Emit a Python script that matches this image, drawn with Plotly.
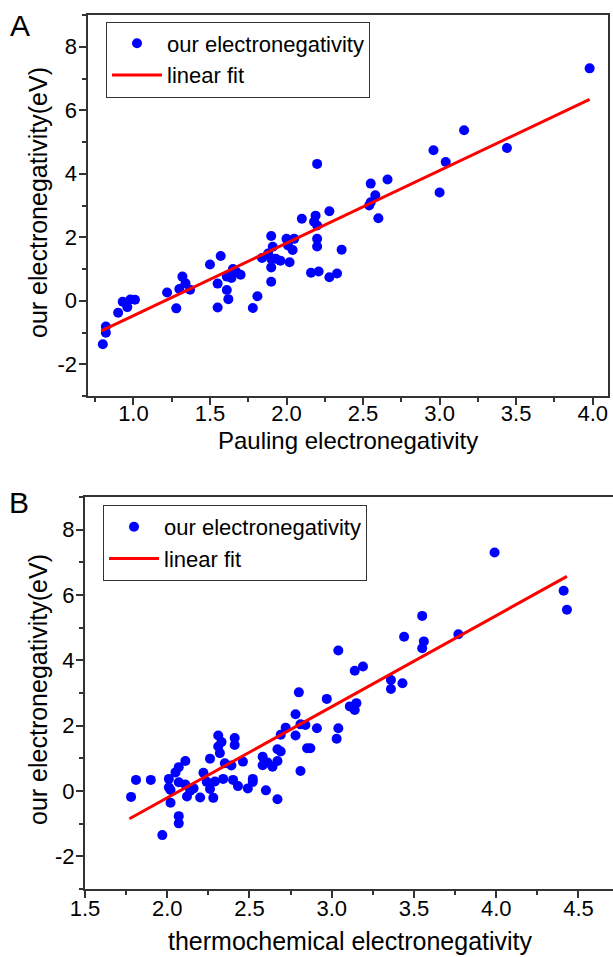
import plotly.graph_objects as go

W, H = 613, 957
FONT = "Liberation Sans, Arial, sans-serif"

# ---- Panel A data: Pauling electronegativity vs our electronegativity ----
pauling_x = [0.80, 0.82, 0.82, 0.90, 0.93, 0.96, 0.98, 1.01, 1.22, 1.28, 1.30, 1.32, 1.34, 1.37,
             1.50, 1.55, 1.55, 1.57, 1.61, 1.61, 1.62, 1.64, 1.65, 1.67, 1.70, 1.78, 1.81, 1.84,
             1.88, 1.90, 1.90, 1.90, 1.91, 1.90, 1.93, 1.96, 2.00, 2.01, 2.02, 2.04, 2.05, 2.10,
             2.16, 2.18, 2.19, 2.20, 2.20, 2.20, 2.21, 2.20, 2.28, 2.28, 2.33, 2.36, 2.54, 2.55,
             2.55, 2.58, 2.60, 2.66, 2.96, 3.00, 3.04, 3.16, 3.44, 3.98]
pauling_y = [-1.37, -0.81, -1.01, -0.38, -0.03, -0.20, 0.04, 0.03, 0.26, -0.24, 0.37, 0.76, 0.55, 0.35,
             1.14, 0.54, -0.21, 1.41, 0.76, 0.34, 0.05, 0.72, 1.00, 0.92, 0.82, -0.23, 0.14, 1.35,
             1.49, 2.04, 0.60, 1.05, 1.70, 1.32, 1.32, 1.26, 1.95, 1.74, 1.21, 1.60, 1.95, 2.58,
             0.88, 2.49, 2.68, 2.37, 1.95, 1.71, 0.92, 4.31, 2.82, 0.74, 0.86, 1.61, 3.00, 3.10,
             3.69, 3.32, 2.60, 3.82, 4.74, 3.41, 4.37, 5.37, 4.81, 7.32]
fitA_x = [0.79, 3.98]
fitA_y = [-0.95, 6.34]

# ---- Panel B data: thermochemical electronegativity vs our electronegativity ----
thermo_x = [1.78, 1.81, 1.90, 1.97, 2.01, 2.01, 2.02, 2.02, 2.05, 2.07, 2.07, 2.07, 2.07, 2.11,
            2.11, 2.12, 2.14, 2.16, 2.20, 2.22, 2.24, 2.26, 2.26, 2.28, 2.29, 2.31, 2.31, 2.32,
            2.33, 2.34, 2.35, 2.39, 2.40, 2.41, 2.41, 2.43, 2.46, 2.49, 2.52, 2.52, 2.58, 2.58,
            2.60, 2.61, 2.64, 2.67, 2.67, 2.69, 2.67, 2.69, 2.72, 2.78, 2.78, 2.80, 2.81, 2.81,
            2.84, 2.85, 2.87, 2.91, 2.97, 3.04, 3.03, 3.04, 3.11, 3.15, 3.14, 3.14, 3.19, 3.36,
            3.43, 3.36, 3.44, 3.55, 3.56, 3.55, 3.77, 3.99, 4.41, 4.43]
thermo_y = [-0.18, 0.34, 0.34, -1.35, 0.37, 0.11, 0.03, -0.36, 0.57, -0.77, -0.99, 0.27, 0.73, 0.92,
            0.20, -0.17, 0.01, 0.08, -0.20, 0.56, 0.28, 0.99, 0.06, -0.21, 0.29, 1.70, 1.36, 1.16,
            1.50, 0.37, 0.85, 0.78, 0.34, 1.62, 1.41, 0.15, 0.90, 0.08, 0.37, 0.28, 1.05, 0.79,
            0.02, 0.87, 0.74, -0.25, 1.28, 1.21, 0.92, 1.72, 1.94, 2.35, 1.70, 3.02, 2.04, 0.61,
            2.02, 1.31, 1.31, 1.92, 2.82, 1.92, 1.60, 4.30, 2.59, 2.69, 2.48, 3.68, 3.81, 3.40,
            3.30, 3.12, 4.72, 5.36, 4.58, 4.37, 4.80, 7.30, 6.13, 5.55]
fitB_x = [1.77, 4.43]
fitB_y = [-0.85, 6.57]

# tick labels
xA_ticks = [1.0, 1.5, 2.0, 2.5, 3.0, 3.5, 4.0]
xA_text = ["1.0", "1.5", "2.0", "2.5", "3.0", "3.5", "4.0"]
xB_ticks = [1.5, 2.0, 2.5, 3.0, 3.5, 4.0, 4.5]
xB_text = ["1.5", "2.0", "2.5", "3.0", "3.5", "4.0", "4.5"]
y_ticks = [-2, 0, 2, 4, 6, 8]
y_text = ["-2", "0", "2", "4", "6", "8"]

BLUE = "#0000FF"
RED = "#FF0000"
AXC = "#333333"

fig = go.Figure()
fig.add_trace(go.Scatter(x=pauling_x, y=pauling_y, mode="markers", name="our electronegativity",
                         marker=dict(color=BLUE, size=10), xaxis="x", yaxis="y", legend="legend"))
fig.add_trace(go.Scatter(x=fitA_x, y=fitA_y, mode="lines", name="linear fit",
                         line=dict(color=RED, width=3), xaxis="x", yaxis="y", legend="legend"))
fig.add_trace(go.Scatter(x=thermo_x, y=thermo_y, mode="markers", name="our electronegativity",
                         marker=dict(color=BLUE, size=10), xaxis="x2", yaxis="y2", legend="legend2"))
fig.add_trace(go.Scatter(x=fitB_x, y=fitB_y, mode="lines", name="linear fit",
                         line=dict(color=RED, width=3), xaxis="x2", yaxis="y2", legend="legend2"))


def px_x(p):
    return p / W


def px_y(p):
    return 1 - p / H


common_axis = dict(showgrid=False, zeroline=False, showline=True, linecolor=AXC, linewidth=2,
                   ticks="outside", ticklen=7, tickwidth=2, tickcolor=AXC, automargin=False,
                   tickfont=dict(family=FONT, size=22, color="black"))
xminor = dict(dtick=0.25, ticks="outside", ticklen=4, tickwidth=2, tickcolor=AXC)
yminor = dict(dtick=1, tick0=-3, ticks="outside", ticklen=4, tickwidth=2, tickcolor=AXC)

fig.update_layout(
    width=W, height=H,
    margin=dict(l=0, r=0, t=0, b=0, autoexpand=False),
    paper_bgcolor="white", plot_bgcolor="white",
    font=dict(family=FONT, color="black"),
    xaxis=dict(domain=[px_x(87.5), px_x(608)], range=[0.7, 4.1], anchor="y",
               tickvals=xA_ticks, ticktext=xA_text, mirror=True, ticklabelstandoff=-10,
               minor=dict(tick0=0.75, **xminor), **common_axis),
    yaxis=dict(domain=[px_y(396), px_y(15)], range=[-3, 9], anchor="x",
               tickvals=y_ticks, ticktext=y_text, mirror=True, ticklabelstandoff=-3,
               minor=yminor, **common_axis),
    xaxis2=dict(domain=[px_x(85), 1.0], range=[1.5, 4.71], anchor="y2",
                tickvals=xB_ticks, ticktext=xB_text, mirror=True, ticklabelstandoff=-8,
                minor=dict(tick0=1.75, **xminor), **common_axis),
    yaxis2=dict(domain=[px_y(889), px_y(497)], range=[-3, 9], anchor="x2",
                tickvals=y_ticks, ticktext=y_text, mirror=False, ticklabelstandoff=-3,
                minor=yminor, **common_axis),
    legend=dict(x=px_x(106), y=px_y(21.5), xanchor="left", yanchor="top",
                bordercolor=AXC, borderwidth=1, bgcolor="white",
                font=dict(family=FONT, size=22, color="black"),
                itemwidth=50, tracegroupgap=0),
    legend2=dict(x=px_x(103), y=px_y(505), xanchor="left", yanchor="top",
                 bordercolor=AXC, borderwidth=1, bgcolor="white",
                 font=dict(family=FONT, size=22, color="black"),
                 itemwidth=50, tracegroupgap=0),
    showlegend=True,
)

ann = [
    ("A", 20, 26, 30, 0),
    ("B", 19, 502, 30, 0),
    ("our electronegativity(eV)", 38, 203, 25, -90),
    ("our electronegativity(eV)", 38, 690, 25, -90),
    ("Pauling electronegativity", 348, 440, 24, 0),
    ("thermochemical electronegativity", 350, 941, 25, 0),
]
for text, x, y, size, ang in ann:
    fig.add_annotation(text=text, x=px_x(x), y=px_y(y), xref="paper", yref="paper",
                       xanchor="center", yanchor="middle", showarrow=False, textangle=ang,
                       font=dict(family=FONT, size=size, color="black"))

fig.write_html("out.html", config={"displayModeBar": False},
               post_script="document.body.style.margin='0';document.body.style.overflow='hidden';")
